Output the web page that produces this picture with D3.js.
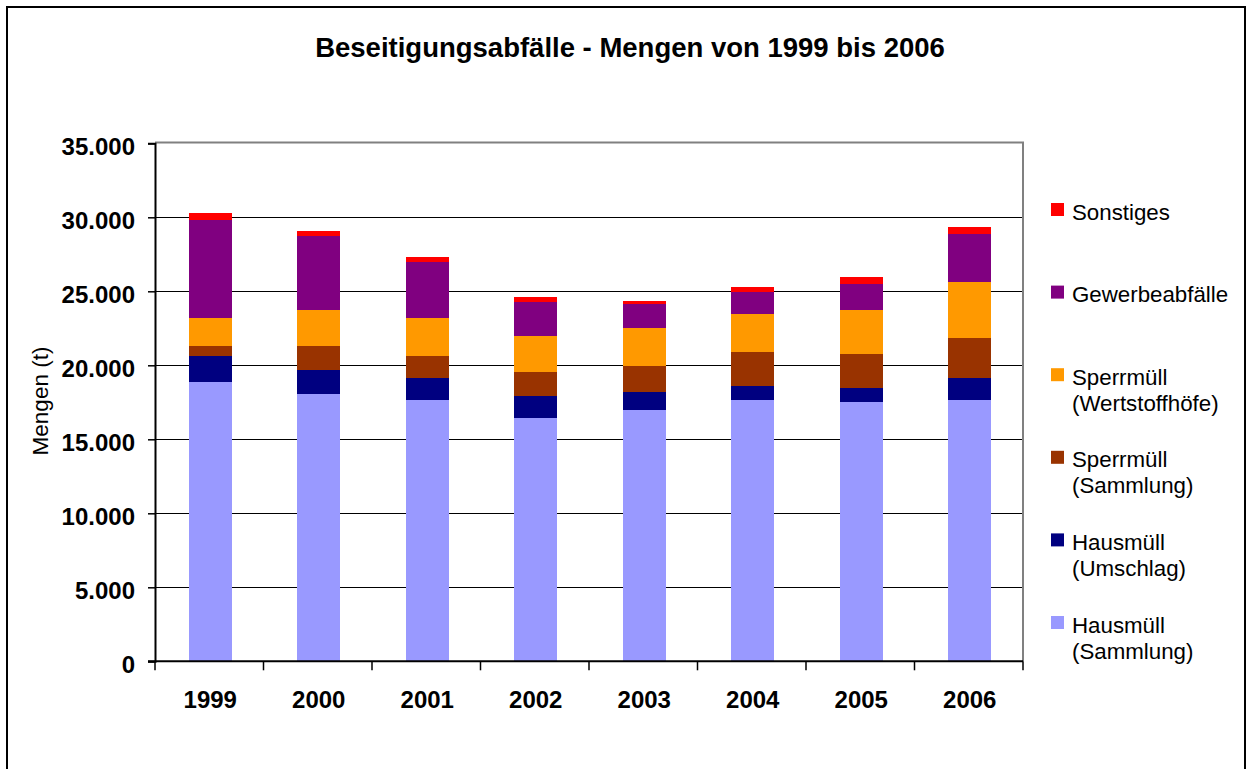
<!DOCTYPE html>
<html>
<head>
<meta charset="utf-8">
<script src="https://cdn.jsdelivr.net/npm/d3@7"></script>
<style>
  html, body { margin: 0; padding: 0; background: #fff; }
  svg { display: block; font-family: "Liberation Sans", Arial, sans-serif; }
</style>
</head>
<body>
<svg id="chart" width="1252" height="769"></svg>
<script>
// Daten (in t)
const years = ['1999', '2000', '2001', '2002', '2003', '2004', '2005', '2006'];
const hausmuellSammlung = [18870, 18060, 17660, 16440, 16980, 17660, 17520, 17660];
const hausmuellUmschlag = [1760, 1620, 1480, 1490, 1220, 940, 950, 1480];
const sperrmuellSammlung = [680, 1620, 1490, 1620, 1750, 2300, 2290, 2700];
const sperrmuellWertstoff = [1890, 2440, 2570, 2440, 2570, 2570, 2980, 3790];
const gewerbeabfaelle = [6620, 5000, 3780, 2290, 1620, 1480, 1750, 3250];
const sonstiges = [470, 330, 340, 330, 210, 340, 480, 480];

const seriesNames = ['Hausmüll (Sammlung)', 'Hausmüll (Umschlag)', 'Sperrmüll (Sammlung)',
  'Sperrmüll (Wertstoffhöfe)', 'Gewerbeabfälle', 'Sonstiges'];
const seriesValues = [hausmuellSammlung, hausmuellUmschlag, sperrmuellSammlung,
  sperrmuellWertstoff, gewerbeabfaelle, sonstiges];
const seriesColors = ['#9999FF', '#000080', '#993300', '#FF9900', '#800080', '#FF0000'];
const legendLines = [['Hausmüll', '(Sammlung)'], ['Hausmüll', '(Umschlag)'], ['Sperrmüll', '(Sammlung)'],
  ['Sperrmüll', '(Wertstoffhöfe)'], ['Gewerbeabfälle'], ['Sonstiges']];
const yTicks = [0, 5000, 10000, 15000, 20000, 25000, 30000, 35000];

const svg = d3.select('#chart');

// Rahmen
svg.append('rect')
  .attr('x', 7).attr('y', 7).attr('width', 1238).attr('height', 800)
  .attr('fill', 'none').attr('stroke', '#000').attr('stroke-width', 2);

// Titel
svg.append('text')
  .attr('x', 630).attr('y', 57)
  .attr('text-anchor', 'middle')
  .attr('font-size', 27.5).attr('font-weight', 'bold')
  .text('Beseitigungsabfälle - Mengen von 1999 bis 2006');

const plot = { left: 155, right: 1023, top: 142.5, bottom: 661.3 };

const x = d3.scaleBand().domain(years)
  .range([plot.left, plot.right])
  .paddingInner(0.6).paddingOuter(0.3);
const y = d3.scaleLinear().domain([0, 35000]).range([plot.bottom, 143.3]);

const table = years.map((yr, i) => {
  const row = { year: yr };
  seriesNames.forEach((n, s) => { row[n] = seriesValues[s][i]; });
  return row;
});
const stacked = d3.stack().keys(seriesNames)(table);

// Gitternetz
svg.append('g').selectAll('line')
  .data(yTicks.filter(t => t > 0 && t < 35000))
  .join('line')
  .attr('x1', plot.left).attr('x2', plot.right)
  .attr('y1', d => Math.round(y(d)) + 0.5).attr('y2', d => Math.round(y(d)) + 0.5)
  .attr('stroke', '#000').attr('stroke-width', 1);

// Plotrahmen oben/rechts (grau)
svg.append('path')
  .attr('d', `M${plot.left},${plot.top}H${plot.right}V${plot.bottom}`)
  .attr('fill', 'none').attr('stroke', '#808080').attr('stroke-width', 2);

// Balken
svg.append('g').selectAll('g')
  .data(stacked)
  .join('g')
  .attr('fill', (d, i) => seriesColors[i])
  .selectAll('rect')
  .data(d => d)
  .join('rect')
  .attr('shape-rendering', 'crispEdges')
  .attr('x', d => x(d.data.year) + 1)
  .attr('width', x.bandwidth())
  .attr('y', d => y(d[1]))
  .attr('height', d => y(d[0]) - y(d[1]));

// Y-Achse
const fmt = d3.formatLocale({ decimal: ',', thousands: '.', grouping: [3], currency: ['', '€'] }).format(',d');
const yAxis = svg.append('g')
  .attr('transform', `translate(${plot.left},0)`)
  .call(d3.axisLeft(y).tickValues(yTicks).tickSize(7).tickPadding(13).tickFormat(fmt));
yAxis.select('.domain').attr('stroke', '#000').attr('stroke-width', 2);
yAxis.selectAll('.tick line').attr('stroke', '#000').attr('stroke-width', 1.5);
yAxis.selectAll('.tick text')
  .attr('font-size', 24).attr('font-weight', 'bold').attr('fill', '#000')
  .attr('font-family', '"Liberation Sans", Arial, sans-serif')
  .attr('dy', '0.45em');

// X-Achse
const xAxisG = svg.append('g').attr('transform', `translate(0,${plot.bottom})`);
xAxisG.append('line')
  .attr('x1', plot.left - 7).attr('x2', plot.right)
  .attr('stroke', '#000').attr('stroke-width', 2);
xAxisG.selectAll('line.tk')
  .data(d3.range(years.length + 1))
  .join('line').attr('class', 'tk')
  .attr('x1', i => plot.left + i * x.step()).attr('x2', i => plot.left + i * x.step())
  .attr('y1', 0).attr('y2', 9)
  .attr('stroke', '#000').attr('stroke-width', 1.5);
xAxisG.selectAll('text')
  .data(years)
  .join('text')
  .attr('x', d => x(d) + x.bandwidth() / 2 + 1)
  .attr('y', 47)
  .attr('text-anchor', 'middle')
  .attr('font-size', 24).attr('font-weight', 'bold')
  .text(d => d);

// Y-Achsentitel
svg.append('text')
  .attr('transform', 'translate(48,401) rotate(-90)')
  .attr('text-anchor', 'middle')
  .attr('font-size', 22.5)
  .text('Mengen (t)');

// Legende (von oben: Sonstiges ... Hausmüll (Sammlung))
const legendOrder = d3.range(seriesNames.length).reverse();
const legend = svg.append('g').selectAll('g')
  .data(legendOrder)
  .join('g')
  .attr('transform', (d, i) => `translate(1051,${203 + i * 82.6})`);
legend.append('rect')
  .attr('width', 13).attr('height', 13)
  .attr('fill', d => seriesColors[d]);
legend.append('text')
  .attr('font-size', 22.3)
  .selectAll('tspan')
  .data(d => legendLines[d])
  .join('tspan')
  .attr('x', 21).attr('y', (d, i) => 16.5 + i * 26)
  .text(d => d);
</script>
</body>
</html>
